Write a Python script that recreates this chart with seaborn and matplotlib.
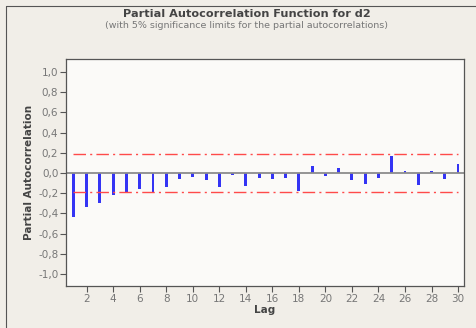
import numpy as np
import pandas as pd
import matplotlib
matplotlib.use("Agg")
import matplotlib.pyplot as plt
import seaborn as sns
from matplotlib.lines import Line2D

# ---- data ----
lags = list(range(1, 31))
pacf = [-0.44, -0.34, -0.30, -0.22, -0.20, -0.155, -0.19, -0.14, -0.06, -0.035,
        -0.07, -0.14, -0.02, -0.13, -0.045, -0.06, -0.05, -0.175, 0.07, -0.03,
        0.05, -0.07, -0.11, -0.045, 0.17, 0.02, -0.12, 0.015, -0.055, 0.09]
sig_limit = 0.185
yticks = [-1.0, -0.8, -0.6, -0.4, -0.2, 0.0, 0.2, 0.4, 0.6, 0.8, 1.0]
ytick_labels = ["-1,0", "-0,8", "-0,6", "-0,4", "-0,2", "0,0", "0,2", "0,4", "0,6", "0,8", "1,0"]
xticks = list(range(2, 31, 2))
title = "Partial Autocorrelation Function for d2"
subtitle = "(with 5% significance limits for the partial autocorrelations)"
xlabel = "Lag"
ylabel = "Partial Autocorrelation"

df = pd.DataFrame({"Lag": lags, "PACF": pacf})

sns.set_theme(style="white")
plt.rcParams["font.family"] = ["DejaVu Sans"]

W, H = 477, 328
fig = plt.figure(figsize=(W / 100, H / 100), dpi=100)
fig.patch.set_facecolor("#f1eee8")
ax = fig.add_axes([66 / W, 1 - 286 / H, (464 - 66) / W, (286 - 59) / H])
ax.set_facecolor("#fbfaf8")

sns.barplot(data=df, x="Lag", y="PACF", native_scale=True, width=0.22,
            color="#3434f4", saturation=1, ax=ax, edgecolor="none")

ax.axhline(0, color="#8c8c8c", lw=1.3, zorder=1)
for s in (sig_limit, -sig_limit):
    ax.hlines(s, lags[0], lags[-1], color="#ff4a4a", lw=1.0,
              linestyles=(0, (9, 3, 1.5, 3)), zorder=1)

ax.set_xlim(0.44, 30.45)
ax.set_ylim(-1.12, 1.13)
ax.set_xticks(xticks)
ax.set_xticklabels([str(t) for t in xticks])
ax.set_yticks(yticks)
ax.set_yticklabels(ytick_labels)
ax.tick_params(axis="both", which="major", direction="out", length=4, width=0.8,
               color="#555555", labelcolor="#777777", labelsize=7.5, pad=1.5,
               bottom=True, left=True)
for sp in ax.spines.values():
    sp.set_color("#555555")
    sp.set_linewidth(0.9)

ax.set_xlabel(xlabel, fontsize=7.5, fontweight="bold", color="#444444", labelpad=1)
ax.set_ylabel(ylabel, fontsize=7.5, fontweight="bold", color="#444444", labelpad=3)

cx = 246.5 / W
fig.text(cx, 1 - 14 / H, title, ha="center", va="center",
         fontsize=8.1, fontweight="bold", color="#444444")
fig.text(cx, 1 - 25.5 / H, subtitle, ha="center", va="center",
         fontsize=6.8, color="#777777")

fig.add_artist(Line2D([6 / W, 1], [1 - 6 / H, 1 - 6 / H], transform=fig.transFigure,
                      color="#555555", lw=0.8))
fig.add_artist(Line2D([6 / W, 6 / W], [0, 1 - 6 / H], transform=fig.transFigure,
                      color="#555555", lw=0.8))

fig.savefig("out.png", dpi=100, facecolor=fig.get_facecolor())
